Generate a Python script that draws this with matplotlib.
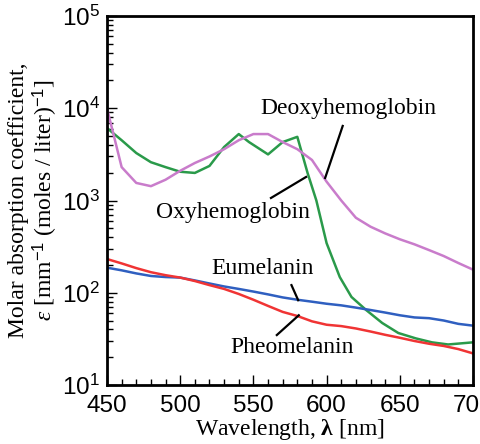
import matplotlib
matplotlib.use("Agg")
import matplotlib.pyplot as plt
from matplotlib.ticker import LogLocator, MultipleLocator, LogFormatterSciNotation

plt.rcParams['mathtext.fontset'] = 'custom'
plt.rcParams['mathtext.rm'] = 'Liberation Sans'
plt.rcParams['mathtext.it'] = 'Liberation Serif:italic'
plt.rcParams['mathtext.bf'] = 'Liberation Serif:bold'

# Deoxyhemoglobin (magenta)
deoxy_wl = [450, 460, 470, 480, 490, 500, 510, 520, 530, 540, 550, 560, 570, 580,
            590, 600, 610, 620, 630, 640, 650, 660, 670, 680, 690, 700]
deoxy_val = [10000, 2300, 1550, 1430, 1680, 2100, 2550, 3000, 3600, 4500, 5250, 5250,
             4300, 3600, 2750, 1600, 1000, 650, 520, 440, 380, 335, 290, 250, 210, 178]

# Oxyhemoglobin (green)
oxy_wl = [450, 460, 470, 480, 490, 500, 510, 520, 530, 540, 547, 560, 570, 580,
          587, 593, 600, 609, 617, 627, 638, 649, 661, 672, 683, 700]
oxy_val = [6100, 4500, 3270, 2600, 2300, 2050, 1990, 2370, 3800, 5250, 4300, 3160,
           4300, 4900, 1990, 1000, 345, 148, 90, 65, 47, 36.6, 32, 29, 27.5, 29]

# Eumelanin (blue)
eu_wl = [450, 460, 470, 480, 490, 500, 510, 520, 530, 540, 550, 560, 570, 580,
         590, 600, 610, 620, 630, 640, 650, 660, 670, 680, 690, 700]
eu_val = [187, 175, 162, 152, 148, 146, 136, 126, 117, 110, 103, 96, 89, 84,
          80, 76, 73, 69, 65, 61, 57, 54, 53, 50, 46, 44]

# Pheomelanin (red)
pheo_wl = [450, 460, 470, 480, 490, 500, 510, 520, 530, 540, 550, 560, 570, 580,
           590, 600, 610, 620, 630, 640, 650, 660, 670, 680, 690, 700]
pheo_val = [232, 208, 185, 167, 155, 146, 134, 121, 110, 97, 84, 72, 62, 56,
            49, 45, 43.5, 41, 38, 35, 32.5, 30, 28, 26.5, 24.5, 22]

fig = plt.figure(figsize=(4.8, 4.44), dpi=100)
W, H = 480, 444
left, right, top, bottom = 107, 473, 16, 385
ax = fig.add_axes([left / W, 1 - bottom / H, (right - left) / W, (bottom - top) / H])

lw = 1.8
ax.plot(oxy_wl, oxy_val, color='#2a9a4a', lw=lw)
ax.plot(deoxy_wl, deoxy_val, color='#c97ccb', lw=lw)
ax.plot(eu_wl, eu_val, color='#2f5fc0', lw=lw)
ax.plot(pheo_wl, pheo_val, color='#f03434', lw=lw)

ax.set_yscale('log')
ax.set_xlim(450, 700)
ax.set_ylim(10, 1e5)

ax.xaxis.set_major_locator(MultipleLocator(50))
ax.xaxis.set_minor_locator(MultipleLocator(10))
ax.yaxis.set_major_locator(LogLocator(base=10, numticks=10))
ax.yaxis.set_minor_locator(LogLocator(base=10, subs=range(2, 10), numticks=20))
ax.yaxis.set_major_formatter(LogFormatterSciNotation())
ax.yaxis.set_minor_formatter(plt.NullFormatter())

ax.tick_params(which='both', direction='in', top=False, right=False, width=1.0)
ax.tick_params(which='major', length=7)
ax.tick_params(which='minor', length=4)
ax.tick_params(axis='both', labelsize=17.5)
ax.tick_params(axis='x', pad=7.5)
ax.tick_params(axis='y', pad=5)
for lab in ax.get_xticklabels() + ax.get_yticklabels():
    lab.set_family('Liberation Sans')
for sp in ax.spines.values():
    sp.set_linewidth(2.0)

serif = ['Liberation Serif', 'DejaVu Serif']
fs = 17
ax.text(615, 1.0e4, 'Deoxyhemoglobin', family=serif, fontsize=fs, ha='center', va='center')
ax.text(536, 750, 'Oxyhemoglobin', family=serif, fontsize=fs, ha='center', va='center')
ax.text(556, 185, 'Eumelanin', family=serif, fontsize=fs, ha='center', va='center')
ax.text(576.5, 25.8, 'Pheomelanin', family=serif, fontsize=fs, ha='center', va='center')

kw = dict(color='black', lw=1.6)
ax.plot([611, 599], [6430, 1755], **kw)
ax.plot([562, 586], [1065, 1800], **kw)
ax.plot([576, 580.6], [121, 83], **kw)
ax.plot([566, 581], [34.8, 57], **kw)

ax.set_xlabel(r'Wavelength, $\boldsymbol{\lambda}$ [nm]', family=serif, fontsize=fs, labelpad=-0.5)
ax.set_ylabel('Molar absorption coefficient,\n' + r'$\mathit{\varepsilon}$ [mm$^{-1}$ (moles / liter)$^{-1}$]',
              family=serif, fontsize=fs, labelpad=2, linespacing=1.05)

fig.savefig('out.png', dpi=100)
